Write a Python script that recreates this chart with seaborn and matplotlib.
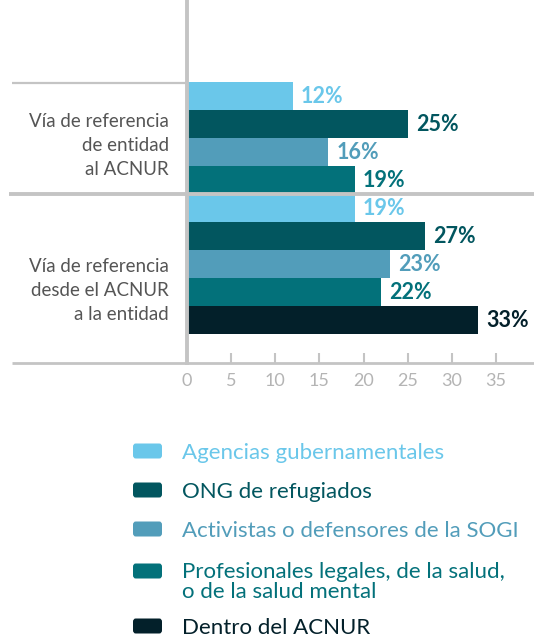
import matplotlib
matplotlib.use("Agg")
import matplotlib.pyplot as plt
from matplotlib.patches import FancyBboxPatch
import seaborn as sns
import pandas as pd

# ---- data ----
series = ["Agencias gubernamentales", "ONG de refugiados",
          "Activistas o defensores de la SOGI",
          "Profesionales legales, de la salud,\no de la salud mental",
          "Dentro del ACNUR"]
colors = ["#6AC7EA", "#02565F", "#529DBA", "#03717A", "#03202A"]
groups = ["Vía de referencia\nde entidad\nal ACNUR",
          "Vía de referencia\ndesde el ACNUR\na la entidad"]
values_g1 = [12, 25, 16, 19]
values_g2 = [19, 27, 23, 22, 33]
xticks = [0, 5, 10, 15, 20, 25, 30, 35]

rows, sers, vals = [], [], []
r = 0
for vs in (values_g1, values_g2):
    for i, v in enumerate(vs):
        rows.append(r); sers.append(series[i]); vals.append(v); r += 1
df = pd.DataFrame({"row": rows, "series": sers, "value": vals})

sns.set_theme(style="white")
plt.rcParams["font.family"] = ["Lato", "DejaVu Sans"]

W, H = 534, 639
fig = plt.figure(figsize=(W / 100, H / 100), dpi=100)
x0, x1, ytop, ybot = 187, 534, 0, 363
ax = fig.add_axes([x0 / W, 1 - ybot / H, (x1 - x0) / W, (ybot - ytop) / H])

pal = dict(zip(series, colors))
sns.barplot(data=df, x="value", y="row", hue="series", orient="h",
            native_scale=True, dodge=False, width=1.0, palette=pal,
            saturation=1, linewidth=0, legend=False, ax=ax)

pxu = 8.83
rowpx = 28.0
ax.set_xlim(0, (x1 - x0) / pxu)
ax.set_ylim((ybot - 96) / rowpx, (ytop - 96) / rowpx)

# value labels
for rr, s, v in zip(rows, sers, vals):
    ax.text(v + 8 / pxu, rr + 6.7 / rowpx, f"{v}%", va="baseline", ha="left",
            fontsize=15.5, fontweight="bold", color=pal[s])

# axes styling
linec = "#C4C4C4"
for sp in ["top", "right", "bottom"]:
    ax.spines[sp].set_visible(False)
ax.spines["left"].set_color(linec)
ax.spines["left"].set_linewidth(2.8)
ax.set_yticks([])
ax.set_ylabel("")
ax.set_xlabel("")
ax.set_xticks(xticks)
ax.set_xticklabels([str(t) for t in xticks])
ax.tick_params(axis="x", direction="in", length=7.2, width=1.5, color=linec,
               pad=7.5, labelsize=13, labelcolor="#B4B4B4", bottom=True)

tr = ax.get_yaxis_transform()
def fx(px):
    return (px - x0) / (x1 - x0)
def fy(py):
    return (py - 96) / rowpx
# separator / baseline lines
ax.plot([fx(12), fx(186)], [fy(83), fy(83)], transform=tr, color=linec, lw=1.6,
        clip_on=False, solid_capstyle="butt")
ax.plot([fx(9), 1], [fy(194), fy(194)], transform=tr, color=linec, lw=2.8,
        clip_on=False, zorder=5, solid_capstyle="butt")
ax.plot([fx(12), 1], [fy(362.7), fy(362.7)], transform=tr, color=linec, lw=2.0,
        clip_on=False, solid_capstyle="butt")

# group labels (baseline of last line)
for g, b in zip(groups, [175, 320]):
    fig.text(169 / W, 1 - b / H, g, ha="right", va="baseline",
             fontsize=13.5, color="#555555", linespacing=1.5)

# legend (manual)
leg_base = [459, 498, 537, 598, 634]
mark_base = [459, 498, 537, 579, 634]
for s, c, b, mb in zip(series, colors, leg_base, mark_base):
    p = FancyBboxPatch((133 / W, 1 - (mb - 0.5) / H), 29 / W, 15 / H,
                       boxstyle="round,pad=0,rounding_size=0.005",
                       transform=fig.transFigure, facecolor=c, edgecolor="none")
    fig.patches.append(p)
    fig.text(182 / W, 1 - b / H, s, ha="left", va="baseline", fontsize=16,
             color=c, linespacing=0.97)

fig.savefig("out.png", dpi=100)
